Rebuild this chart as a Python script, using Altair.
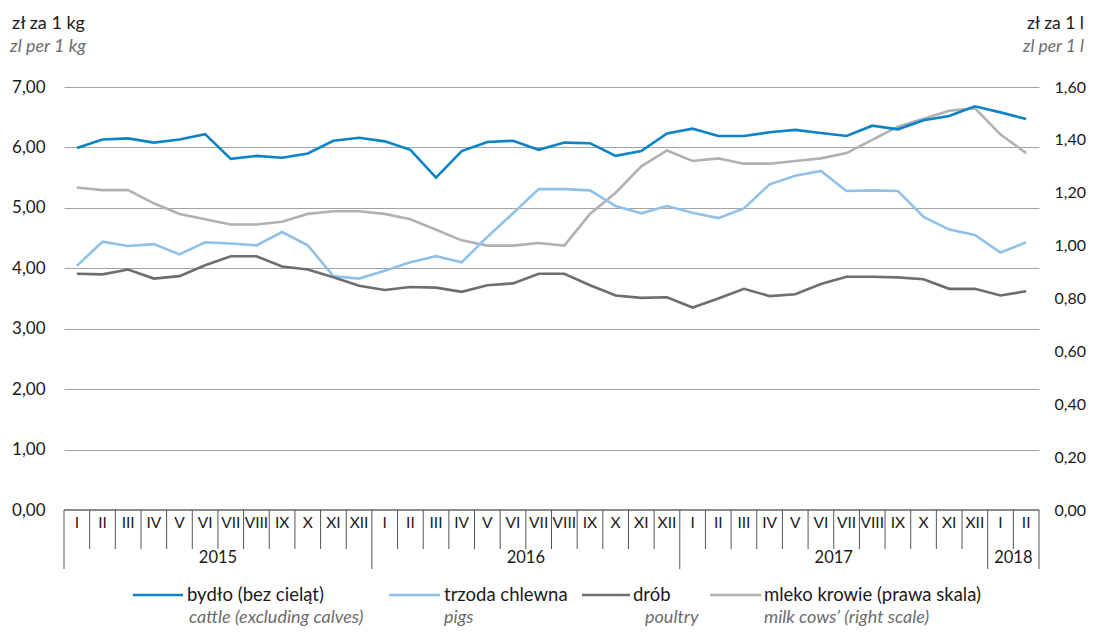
import altair as alt
import pandas as pd

# ---------------- data ----------------
roman = ["I", "II", "III", "IV", "V", "VI", "VII", "VIII", "IX", "X", "XI", "XII"]
month_labels = roman * 3 + ["I", "II"]
years = ["2015", "2016", "2017", "2018"]
months_per_year = [12, 12, 12, 2]

cattle = [5.99, 6.13, 6.15, 6.08, 6.13, 6.22, 5.81, 5.86, 5.83, 5.90, 6.11, 6.16,
          6.10, 5.96, 5.50, 5.94, 6.09, 6.11, 5.96, 6.08, 6.07, 5.86, 5.94, 6.23,
          6.31, 6.19, 6.19, 6.25, 6.29, 6.24, 6.19, 6.36, 6.30, 6.45, 6.52, 6.68,
          6.58, 6.47]
pigs = [4.04, 4.44, 4.37, 4.40, 4.23, 4.43, 4.41, 4.38, 4.60, 4.38, 3.87, 3.83,
        3.96, 4.10, 4.20, 4.10, 4.52, 4.91, 5.31, 5.31, 5.29, 5.03, 4.91, 5.03,
        4.92, 4.83, 4.99, 5.39, 5.53, 5.61, 5.28, 5.29, 5.28, 4.85, 4.64, 4.55,
        4.26, 4.43]
poultry = [3.91, 3.90, 3.98, 3.83, 3.87, 4.05, 4.20, 4.20, 4.03, 3.98, 3.85, 3.71,
           3.64, 3.69, 3.68, 3.61, 3.72, 3.75, 3.91, 3.91, 3.72, 3.55, 3.51, 3.52,
           3.35, 3.50, 3.66, 3.54, 3.57, 3.74, 3.86, 3.86, 3.85, 3.82, 3.66, 3.66,
           3.55, 3.62]
milk = [1.22, 1.21, 1.21, 1.16, 1.12, 1.10, 1.08, 1.08, 1.09, 1.12, 1.13, 1.13,
        1.12, 1.10, 1.06, 1.02, 1.00, 1.00, 1.01, 1.00, 1.12, 1.20, 1.30, 1.36,
        1.32, 1.33, 1.31, 1.31, 1.32, 1.33, 1.35, 1.40, 1.45, 1.48, 1.51, 1.52,
        1.42, 1.35]

series_pl = ["bydło (bez cieląt)", "trzoda chlewna", "drób", "mleko krowie (prawa skala)"]
series_en = ["cattle (excluding calves)", "pigs", "poultry", "milk cows’ (right scale)"]
colors = ["#0b84c6", "#8fc1e9", "#6d6e71", "#b1b1b3"]

left_title_pl, left_title_en = "zł za 1 kg", "zl per 1 kg"
right_title_pl, right_title_en = "zł za 1 l", "zl per 1 l"

# ---------------- tables ----------------
n = len(month_labels)
pos = [i + 0.5 for i in range(n)]
rows = []
for k, (name, vals) in enumerate(zip(series_pl[:3], [cattle, pigs, poultry])):
    for p, v in zip(pos, vals):
        rows.append({"pos": p, "value": v, "series": name, "z": 3 - k})
df_left = pd.DataFrame(rows)
df_milk = pd.DataFrame({"pos": pos, "value": milk})
df_months = pd.DataFrame({"pos": pos, "label": month_labels})

year_bounds = [0]
for m in months_per_year:
    year_bounds.append(year_bounds[-1] + m)
df_years = pd.DataFrame({
    "pos": [(year_bounds[i] + year_bounds[i + 1]) / 2 for i in range(len(years))],
    "label": years,
})
df_msep = pd.DataFrame({"b": [b for b in range(n + 1) if b not in year_bounds]})
df_ysep = pd.DataFrame({"b": year_bounds})

FONT = "Lato"
W, H = 975, 423
X = alt.X("pos:Q", scale=alt.Scale(domain=[0, n], nice=False, zero=False), axis=None)
lab_expr = "replace(format(datum.value, '.2f'), '.', ',')"

milk_line = alt.Chart(df_milk).mark_line(strokeWidth=2.6, color=colors[3]).encode(
    x=X,
    y=alt.Y("value:Q",
            scale=alt.Scale(domain=[0, 1.6], nice=False, zero=True),
            axis=alt.Axis(orient="right", values=[0, 0.2, 0.4, 0.6, 0.8, 1.0, 1.2, 1.4, 1.6],
                          grid=False, domain=False, ticks=False, labelExpr=lab_expr,
                          labelFontSize=16, labelFont=FONT, labelColor="#1a1a1a",
                          labelPadding=15, title=None)),
)

left_lines = alt.Chart(df_left).mark_line(strokeWidth=2.6).encode(
    x=X,
    y=alt.Y("value:Q",
            scale=alt.Scale(domain=[0, 7], nice=False, zero=True),
            axis=alt.Axis(orient="left", values=list(range(8)), grid=True,
                          gridColor="#a3a3a3", gridWidth=1.2, domain=False, ticks=False,
                          labelExpr=lab_expr, labelFontSize=17, labelFont=FONT,
                          labelColor="#1a1a1a", labelPadding=19, title=None)),
    color=alt.Color("series:N", scale=alt.Scale(domain=series_pl[:3], range=colors[:3]),
                    legend=None),
    order=alt.Order("z:Q"),
)

month_text = alt.Chart(df_months).mark_text(fontSize=15.5, font=FONT, color="#1a1a1a",
                                            baseline="middle").encode(
    x=X, y=alt.value(H + 13), text="label:N")
year_text = alt.Chart(df_years).mark_text(fontSize=16.5, font=FONT, color="#1a1a1a",
                                          baseline="middle").encode(
    x=X, y=alt.value(H + 48), text="label:N")
XB = alt.X("b:Q", scale=alt.Scale(domain=[0, n], nice=False, zero=False), axis=None)
msep = alt.Chart(df_msep).mark_rule(color="#555555", strokeWidth=1).encode(
    x=XB, y=alt.value(H), y2=alt.value(H + 39))
ysep = alt.Chart(df_ysep).mark_rule(color="#555555", strokeWidth=1).encode(
    x=XB, y=alt.value(H), y2=alt.value(H + 59))
axis_line = alt.Chart(df_ysep).mark_rule(color="#8a8a8a", strokeWidth=1.2).encode(
    x=alt.value(0), x2=alt.value(W), y=alt.value(H))

one = pd.DataFrame({"a": [0]})
layers = []
# legend (hand-placed, plot-relative pixels)
leg_line_x = [(69, 119), (325, 376), (518, 566), (646, 697)]
leg_text_x = [123, 380, 569, 700]
leg_en_x = [125, 380, 581, 700]
for i in range(4):
    layers.append(alt.Chart(one).mark_rule(color=colors[i], strokeWidth=2.6).encode(
        x=alt.value(leg_line_x[i][0]), x2=alt.value(leg_line_x[i][1]), y=alt.value(508)))
    layers.append(alt.Chart(one).mark_text(align="left", baseline="middle", fontSize=18.5,
                                           font=FONT, color="#1a1a1a").encode(
        x=alt.value(leg_text_x[i]), y=alt.value(508), text=alt.value(series_pl[i])))
    layers.append(alt.Chart(one).mark_text(align="left", baseline="middle", fontSize=18,
                                           font=FONT, fontStyle="italic", color="#6d6d6d").encode(
        x=alt.value(leg_en_x[i]), y=alt.value(531), text=alt.value(series_en[i])))
# axis titles
layers.append(alt.Chart(one).mark_text(align="left", baseline="middle", fontSize=18,
                                       font=FONT, color="#1a1a1a").encode(
    x=alt.value(-52), y=alt.value(-63), text=alt.value(left_title_pl)))
layers.append(alt.Chart(one).mark_text(align="left", baseline="middle", fontSize=18,
                                       font=FONT, fontStyle="italic", color="#6d6d6d").encode(
    x=alt.value(-54), y=alt.value(-40), text=alt.value(left_title_en)))
layers.append(alt.Chart(one).mark_text(align="right", baseline="middle", fontSize=17.5,
                                       font=FONT, color="#1a1a1a").encode(
    x=alt.value(1020), y=alt.value(-63), text=alt.value(right_title_pl)))
layers.append(alt.Chart(one).mark_text(align="right", baseline="middle", fontSize=17.5,
                                       font=FONT, fontStyle="italic", color="#6d6d6d").encode(
    x=alt.value(1020), y=alt.value(-40), text=alt.value(right_title_en)))

chart = alt.layer(
    milk_line, left_lines, axis_line, msep, ysep, month_text, year_text, *layers
).resolve_scale(y="independent").properties(
    width=W, height=H,
    autosize=alt.AutoSizeParams(type="none"),
    padding={"left": 56, "top": 79, "right": 48, "bottom": 118},
    background="white",
).configure_view(stroke=None)

chart.save("out.html", embed_options={"renderer": "svg", "actions": False})
